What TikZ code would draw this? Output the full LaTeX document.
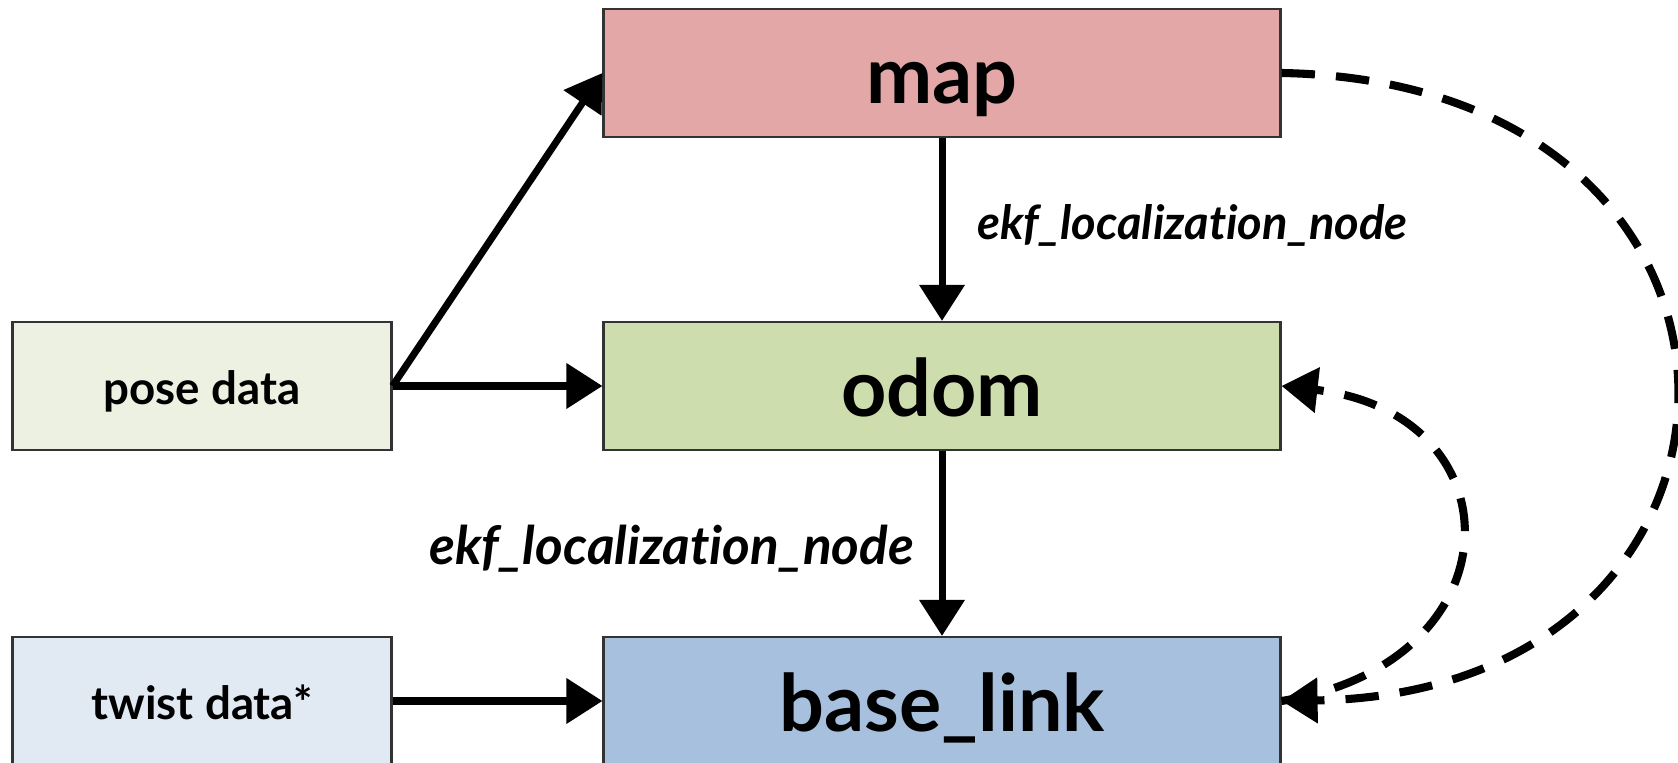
\documentclass[tikz,border=0pt]{standalone}
\usepackage{fontspec}
\setmainfont{Lato}[Ligatures=CommonOff]
\usepackage{tikz}
\usetikzlibrary{arrows.meta}
\definecolor{mapred}{RGB}{226,167,166}
\definecolor{odomgreen}{RGB}{206,221,173}
\definecolor{baseblue}{RGB}{167,192,222}
\definecolor{posegreen}{RGB}{237,241,226}
\definecolor{twistblue}{RGB}{225,233,243}
\newcommand{\bigfont}{\fontsize{22.5}{26}\selectfont\bfseries}
\newcommand{\srcfont}{\fontsize{13}{15}\selectfont\bfseries}
\newcommand{\labelfont}[1]{\fontsize{#1}{16}\selectfont\bfseries\itshape}
\tikzset{
	tfbox/.style={draw=black!80, line width=0.6pt, minimum height=1.28cm, inner sep=0pt, text depth=0cm},
	bigbox/.style={tfbox, minimum width=6.77cm, text height=0.62cm, font=\bigfont},
	srcbox/.style={tfbox, minimum width=3.79cm, text height=0.37cm, font=\srcfont},
	link/.style={line width=2pt, -{Triangle[length=0.36cm,width=0.44cm]}},
	tflink/.style={link, line width=2.3pt, dash pattern=on 9.5pt off 6pt}
}

\begin{document}
\begin{tikzpicture}
			\useasboundingbox (0,0) rectangle (16.78,7.63);

			\node[bigbox, fill=mapred] (map) at (9.42,6.90) {map};
			\node[bigbox, fill=odomgreen] (odom) at (9.42,3.77) {odom};
			\node[bigbox, fill=baseblue] (base) at (9.42,0.62) {base\_link};
			\node[srcbox, fill=posegreen] (pose) at (2.02,3.77) {pose data};
			\node[srcbox, fill=twistblue] (twist) at (2.02,0.62) {twist data*};

			\draw[link] (pose.east) -- (map.west);
			\draw[link] (pose.east) -- (odom.west);
			\draw[link] (twist) -- (base);
			\draw[link] (map) -- node[font=\labelfont{13.4}, right=0.2cm, yshift=0.04cm] {ekf\_localization\_node} (odom);
			\draw[link] (odom) -- node[font=\labelfont{15.1}, left=0.13cm, yshift=-0.05cm] {ekf\_localization\_node} (base);

			\draw[tflink] (map.east) .. controls (18.1,6.8) and (18.0,0.7) .. (base.east);
			\draw[tflink] (base.east) .. controls (15.2,1.0) and (15.2,3.5) .. (odom.east);
		\end{tikzpicture}
\end{document}
